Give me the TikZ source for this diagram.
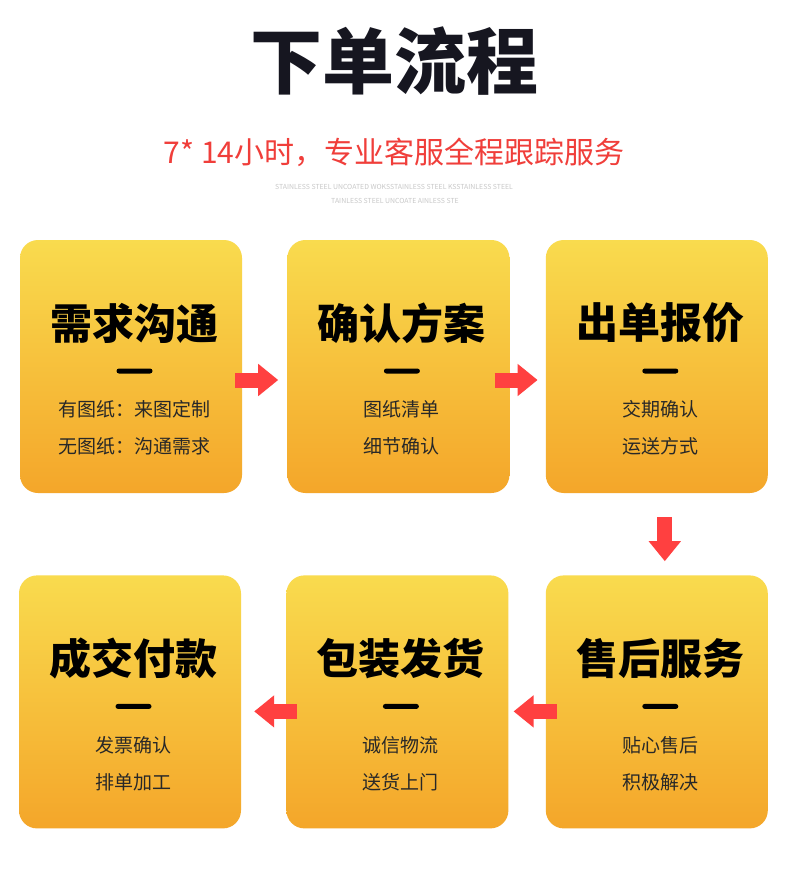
\documentclass[tikz,border=0pt]{standalone}
\usepackage{fontspec}
\setmainfont{Noto Sans CJK SC}
\usepackage{tikz}
\definecolor{cardtopcolour}{RGB}{249,219,78}
\definecolor{cardbottomcolour}{RGB}{244,166,42}
\definecolor{arrowcolour}{RGB}{255,64,64}
\definecolor{subtitlecolour}{RGB}{240,62,58}
\definecolor{notecolour}{RGB}{200,200,200}
\definecolor{linecolour}{RGB}{40,40,40}
\definecolor{titlecolour}{RGB}{22,22,32}
\usetikzlibrary{positioning, arrows.meta}
\tikzstyle{card} = [rectangle, rounded corners=18pt, minimum width=222pt, minimum height=253pt, top color=cardtopcolour, bottom color=cardbottomcolour, inner sep=0pt]
\tikzstyle{cardtitle} = [font=\fontsize{42}{42}\selectfont\bfseries, text=black, inner sep=0pt]
\tikzstyle{cardline} = [font=\fontsize{19}{19}\selectfont, text=linecolour, inner sep=0pt]
\tikzstyle{dashbar} = [rectangle, rounded corners=2.5pt, minimum width=36pt, minimum height=5pt, fill=black, inner sep=0pt]
\tikzstyle{note} = [font=\fontsize{6.9}{6.9}\selectfont, text=notecolour, inner sep=0pt]
\tikzstyle{flowarrow} = [line width=15pt, draw=arrowcolour, -{Triangle[length=20pt,width=31pt]}]

\begin{document}
\begin{tikzpicture}[x=1pt, y=-1pt]
	\useasboundingbox [fill=white] (0,0) rectangle (790,875);
	\node (title) [font=\fontsize{72}{72}\selectfont\bfseries, text=titlecolour] at (394,61) {下单流程};
	\node (subtitle) [font=\fontsize{30}{30}\selectfont, text=subtitlecolour] at (394,152) {7* 14小时，专业客服全程跟踪服务};
	\node (note1) [note] at (394,187) {STAINLESS STEEL UNCOATED WOKSSTAINLESS STEEL KSSTAINLESS STEEL};
	\node (note2) [note] at (395,201) {TAINLESS STEEL UNCOATE AINLESS STE};

	\node (xuqiu) [card] at (131,366.5) {};
	\node (queren) [card, right=45pt of xuqiu] {};
	\node (chudan) [card, right=36pt of queren] {};
	\node (shouhou) [card, below=82pt of chudan] {};
	\node (baozhuang) [card, left=37pt of shouhou] {};
	\node (chengjiao) [card, left=45pt of baozhuang] {};

	\node (xuqiutitle) [cardtitle] at ([xshift=3.5pt, yshift=43.5pt]xuqiu.center) {需求沟通};
	\node (xuqiudash) [dashbar] at ([xshift=3.5pt, yshift=-4.5pt]xuqiu.center) {};
	\node (xuqiuline1) [cardline] at ([xshift=3.5pt, yshift=-43pt]xuqiu.center) {有图纸：来图定制};
	\node (xuqiuline2) [cardline] at ([xshift=3.5pt, yshift=-80pt]xuqiu.center) {无图纸：沟通需求};

	\node (querentitle) [cardtitle] at ([xshift=3.5pt, yshift=43.5pt]queren.center) {确认方案};
	\node (querendash) [dashbar] at ([xshift=3.5pt, yshift=-4.5pt]queren.center) {};
	\node (querenline1) [cardline] at ([xshift=3.5pt, yshift=-43pt]queren.center) {图纸清单};
	\node (querenline2) [cardline] at ([xshift=3.5pt, yshift=-80pt]queren.center) {细节确认};

	\node (chudantitle) [cardtitle] at ([xshift=3.5pt, yshift=43.5pt]chudan.center) {出单报价};
	\node (chudandash) [dashbar] at ([xshift=3.5pt, yshift=-4.5pt]chudan.center) {};
	\node (chudanline1) [cardline] at ([xshift=3.5pt, yshift=-43pt]chudan.center) {交期确认};
	\node (chudanline2) [cardline] at ([xshift=3.5pt, yshift=-80pt]chudan.center) {运送方式};

	\node (shouhoutitle) [cardtitle] at ([xshift=3.5pt, yshift=43.5pt]shouhou.center) {售后服务};
	\node (shouhoudash) [dashbar] at ([xshift=3.5pt, yshift=-4.5pt]shouhou.center) {};
	\node (shouhouline1) [cardline] at ([xshift=3.5pt, yshift=-43pt]shouhou.center) {贴心售后};
	\node (shouhouline2) [cardline] at ([xshift=3.5pt, yshift=-80pt]shouhou.center) {积极解决};

	\node (baozhuangtitle) [cardtitle] at ([xshift=3.5pt, yshift=43.5pt]baozhuang.center) {包装发货};
	\node (baozhuangdash) [dashbar] at ([xshift=3.5pt, yshift=-4.5pt]baozhuang.center) {};
	\node (baozhuangline1) [cardline] at ([xshift=3.5pt, yshift=-43pt]baozhuang.center) {诚信物流};
	\node (baozhuangline2) [cardline] at ([xshift=3.5pt, yshift=-80pt]baozhuang.center) {送货上门};

	\node (chengjiaotitle) [cardtitle] at ([xshift=3.5pt, yshift=43.5pt]chengjiao.center) {成交付款};
	\node (chengjiaodash) [dashbar] at ([xshift=3.5pt, yshift=-4.5pt]chengjiao.center) {};
	\node (chengjiaoline1) [cardline] at ([xshift=3.5pt, yshift=-43pt]chengjiao.center) {发票确认};
	\node (chengjiaoline2) [cardline] at ([xshift=3.5pt, yshift=-80pt]chengjiao.center) {排单加工};

	\draw [flowarrow] ([xshift=-7pt, yshift=-13.5pt]xuqiu.east) -- ([xshift=-9pt, yshift=-13.5pt]queren.west);
	\draw [flowarrow] ([xshift=-15pt, yshift=-13.5pt]queren.east) -- ([xshift=-8pt, yshift=-13.5pt]chudan.west);
	\draw [flowarrow] ([xshift=8pt, yshift=-24pt]chudan.south) -- ([xshift=8pt, yshift=14pt]shouhou.north);
	\draw [flowarrow] ([xshift=11pt, yshift=-9.5pt]shouhou.west) -- ([xshift=5pt, yshift=-9.5pt]baozhuang.east);
	\draw [flowarrow] ([xshift=11pt, yshift=-9.5pt]baozhuang.west) -- ([xshift=13pt, yshift=-9.5pt]chengjiao.east);
\end{tikzpicture}
\end{document}
